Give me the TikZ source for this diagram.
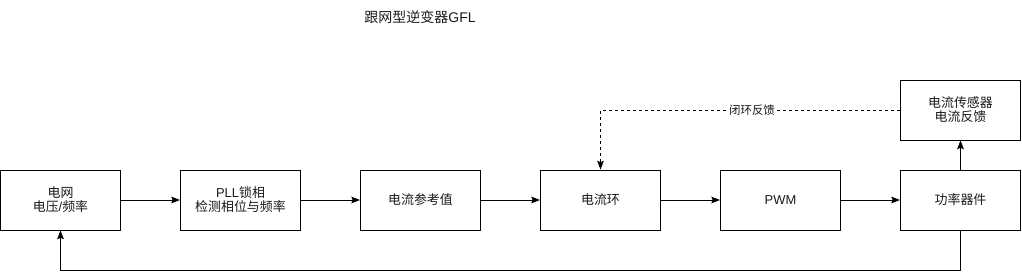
\documentclass[tikz,border=0pt]{standalone}
\usepackage{fontspec}
\setmainfont{Noto Sans CJK SC}
\newfontfamily\latf{Liberation Sans}
\usetikzlibrary{arrows.meta}
\begin{document}
\begin{tikzpicture}[x=0.75pt,y=-0.75pt,
  blk/.style={draw,line width=0.75pt,minimum width=90pt,minimum height=45pt,inner sep=0pt,align=center,font=\fontsize{9.7}{10.5}\selectfont,text=black!90},
  arr/.style={line width=0.75pt,-{Stealth[length=6.5pt,width=5pt,inset=1pt]}},
  lbl/.style={font=\fontsize{8.6}{10}\selectfont,text=black!90}]
\useasboundingbox (0,0) rectangle (1022,279);
\node[font=\fontsize{10.5}{12}\selectfont,text=black!90] (title) at (420,17) {跟网型逆变器{\latf GFL}};
\node[blk] (grid) at (60.5,200) {电网\\电压{\latf /}频率};
\node[blk] (pll) at (240.5,200) {{\latf PLL}锁相\\检测相位与频率};
\node[blk] (ref) at (420.5,200) {电流参考值};
\node[blk] (loop) at (600.5,200) {电流环};
\node[blk] (pwm) at (780.5,200) {\latf PWM};
\node[blk] (pow) at (960.5,200) {功率器件};
\node[blk] (sens) at (960.5,110) {电流传感器\\电流反馈};
\draw[arr] (grid) -- (pll);
\draw[arr] (pll) -- (ref);
\draw[arr] (ref) -- (loop);
\draw[arr] (loop) -- (pwm);
\draw[arr] (pwm) -- (pow);
\draw[arr] (pow) -- (sens);
\coordinate (br) at (960.5,270);
\coordinate (bl) at (60.5,270);
\draw[arr] (pow.south) -- (br) -- (bl) -- (grid.south);
\coordinate (tl) at (600.5,110);
\draw[arr,dashed,dash pattern=on 2.25pt off 2.25pt] (sens.west) -- (tl) -- (loop.north);
\node[lbl,fill=white,inner sep=1pt] (fb) at (752,110) {闭环反馈};
\end{tikzpicture}
\end{document}
